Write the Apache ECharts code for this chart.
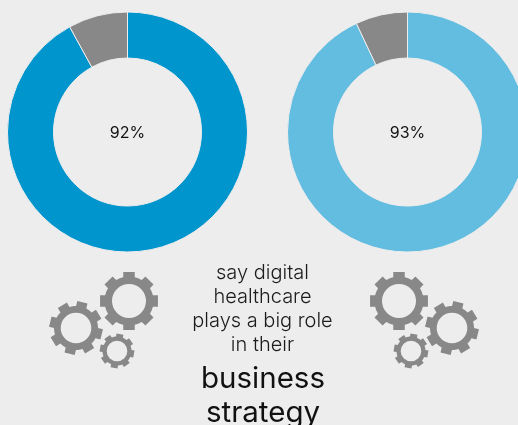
<!DOCTYPE html>
<html>
<head>
<meta charset="utf-8">
<style>html,body{margin:0;padding:0;background:#ededed}#chart{width:518px;height:425px}</style>
<script src="https://cdn.jsdelivr.net/npm/echarts@6/dist/echarts.min.js"></script>
</head>
<body>
<div id="chart"></div>
<script>
// Share of respondents in each group, with the remainder shown in grey
const groupA = [92, 8];
const groupB = [93, 7];
const captionLines = ['say digital', 'healthcare', 'plays a big role', 'in their'];
const emphasisLines = ['business', 'strategy'];

const FONT = 'Inter, Roboto, sans-serif';
const GREY = '#888888';
const BACKGROUND = '#ededed';
const TEETH = 8;

// Outline of a cog wheel with square teeth, as polygon points
function gearPoints(cx, cy, outer, body, toothWidth, rotationDeg) {
  const points = [];
  const rot = rotationDeg * Math.PI / 180;
  const halfAtOuter = Math.asin(toothWidth / 2 / outer);
  const halfAtBody = Math.asin(toothWidth / 2 / body);
  const pt = (r, a) => [cx + r * Math.sin(a), cy - r * Math.cos(a)];
  for (let i = 0; i < TEETH; i++) {
    const a = rot + i * 2 * Math.PI / TEETH;
    points.push(pt(body, a - halfAtBody), pt(outer, a - halfAtOuter), pt(outer, a + halfAtOuter));
    const arcStart = a + halfAtBody;
    const arcEnd = a + 2 * Math.PI / TEETH - halfAtBody;
    for (let s = 0; s <= 6; s++) {
      points.push(pt(body, arcStart + (arcEnd - arcStart) * s / 6));
    }
  }
  return points;
}

// A gear is its toothed outline with the hub punched out in the page colour
function gear(cx, cy, outer, body, hole, toothWidth, rotationDeg) {
  return [
    {
      type: 'polygon',
      silent: true,
      shape: { points: gearPoints(cx, cy, outer, body, toothWidth, rotationDeg) },
      style: { fill: GREY }
    },
    {
      type: 'circle',
      silent: true,
      shape: { cx: cx, cy: cy, r: hole },
      style: { fill: BACKGROUND }
    }
  ];
}

function donut(center, values, color) {
  return {
    type: 'pie',
    center: center,
    radius: [74, 120],
    startAngle: 90,
    clockwise: true,
    silent: true,
    animation: false,
    itemStyle: { borderColor: BACKGROUND, borderWidth: 1 },
    labelLine: { show: false },
    data: [
      {
        value: values[0],
        itemStyle: { color: color },
        label: {
          show: true,
          position: 'center',
          offset: [0, 1],
          formatter: '{c}%',
          fontFamily: FONT,
          fontWeight: 400,
          fontSize: 16,
          color: '#111111'
        }
      },
      { value: values[1], itemStyle: { color: GREY }, label: { show: false } }
    ]
  };
}

const captionText = captionLines.map((line, i) => ({
  type: 'text',
  silent: true,
  style: {
    x: 262.5, y: 272.5 + i * 24.1, text: line, align: 'center', verticalAlign: 'middle',
    font: '300 20px ' + FONT, fill: '#1c1c1c'
  }
}));

const emphasisText = emphasisLines.map((line, i) => ({
  type: 'text',
  silent: true,
  style: {
    x: 263, y: 379 + i * 34.5, text: line, align: 'center', verticalAlign: 'middle',
    font: '400 29.5px ' + FONT, fill: '#111111'
  }
}));

const chart = echarts.init(document.getElementById('chart'), null, { renderer: 'canvas' });
chart.setOption({
  backgroundColor: BACKGROUND,
  animation: false,
  series: [
    donut([127.5, 132], groupA, '#0095cd'),
    donut([407.5, 132], groupB, '#63bde0')
  ],
  graphic: [
    ...gear(129, 301, 29.5, 24.5, 17, 11.5, 0),
    ...gear(76, 328, 27, 22, 15.3, 10.5, 14),
    ...gear(117, 351, 17.5, 14.5, 10.3, 7, 10),
    ...gear(399, 301, 29.5, 24.5, 17, 11.5, 0),
    ...gear(452, 328, 27, 22, 15.3, 10.5, 14),
    ...gear(411, 351, 17.5, 14.5, 10.3, 7, 10),
    ...captionText,
    ...emphasisText
  ]
});
</script>
</body>
</html>
